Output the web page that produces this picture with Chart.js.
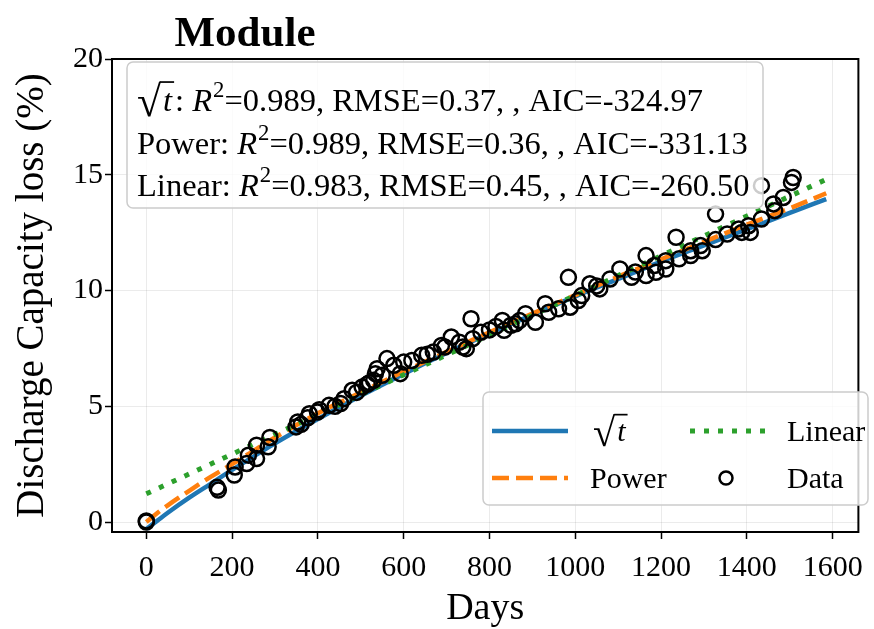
<!DOCTYPE html>
<html>
<head>
<meta charset="utf-8">
<script src="https://cdn.jsdelivr.net/npm/chart.js@4.4.1/dist/chart.umd.min.js"></script>
<style>
  html, body { margin: 0; padding: 0; background: #fff; }
  #wrap { width: 874px; height: 629px; }
</style>
</head>
<body>
<div id="wrap"><canvas id="chart" width="874" height="629"></canvas></div>
<script>
// ─── Data ──────────────────────────────────────────────────
const dataDays = [0, 0, 165, 168, 205, 207, 234, 238, 257, 257, 284, 288, 349, 353, 361, 376, 380, 399, 403,
  426, 440, 453, 461, 480, 490, 503, 515, 520, 530, 534, 538, 550, 561, 577, 592, 600, 619, 642, 655, 669,
  688, 696, 711, 730, 738, 746, 757, 761, 780, 800, 815, 830, 834, 850, 861, 870, 884, 907, 930, 938, 961,
  984, 988, 1007, 1015, 1034, 1050, 1057, 1081, 1104, 1131, 1140, 1165, 1165, 1184, 1188, 1211, 1211, 1235,
  1242, 1269, 1269, 1292, 1296, 1327, 1327, 1354, 1381, 1388, 1404, 1408, 1434, 1434, 1462, 1465, 1485,
  1504, 1508];
const dataLoss = [0.0, 0.05, 1.5, 1.38, 2.03, 2.38, 2.53, 2.89, 2.74, 3.32, 3.25, 3.65, 4.11, 4.32, 4.22, 4.5,
  4.68, 4.75, 4.85, 5.04, 5.0, 5.12, 5.33, 5.69, 5.6, 5.83, 5.95, 6.02, 6.12, 6.41, 6.62, 6.34, 7.06, 6.77,
  6.41, 6.91, 6.98, 7.2, 7.25, 7.34, 7.63, 7.56, 7.99, 7.77, 7.56, 7.49, 8.78, 7.92, 8.2, 8.3, 8.45, 8.71,
  8.28, 8.5, 8.56, 8.7, 9.0, 8.63, 9.43, 9.06, 9.21, 10.57, 9.28, 9.57, 9.78, 10.29, 10.2, 10.07, 10.5,
  10.93, 10.57, 10.8, 11.51, 10.65, 11.08, 10.79, 11.29, 10.93, 12.3, 11.37, 11.51, 11.72, 11.94, 11.72,
  13.3, 12.2, 12.44, 12.66, 12.51, 12.8, 12.51, 13.09, 14.53, 13.74, 13.45, 14.02, 14.67, 14.88];

const fitDays  = [0, 25, 50, 100, 150, 200, 300, 400, 500, 600, 700, 800, 900, 1000, 1100, 1200, 1300, 1400, 1500, 1585];
const sqrtFit  = [-0.3, 0.05, 0.4, 1.05, 1.65, 2.25, 3.4, 4.45, 5.45, 6.4, 7.3, 8.15, 8.95, 9.75, 10.5, 11.25, 11.95, 12.65, 13.35, 13.95];
const powerFit = [0, 0.38, 0.72, 1.35, 1.95, 2.5, 3.65, 4.7, 5.6, 6.5, 7.35, 8.2, 9.0, 9.8, 10.6, 11.35, 12.1, 12.85, 13.55, 14.2];
const linDays  = [0, 1585];
const linFit   = [1.22, 14.8];

const xTicks = [0, 200, 400, 600, 800, 1000, 1200, 1400, 1600];
const yTicks = [0, 5, 10, 15, 20];

const fitNames = ['√t', 'Power', 'Linear'];
const r2Vals   = ['0.989', '0.989', '0.983'];
const rmseVals = ['0.37', '0.36', '0.45'];
const aicVals  = ['-324.97', '-331.13', '-260.50'];

// ─── Helpers ───────────────────────────────────────────────
const SERIF = '"Liberation Serif", "Times New Roman", serif';
const pts = (xs, ys) => xs.map((x, i) => ({ x, y: ys[i] }));

// draws a run of text pieces: plain, italic, superscript, or radical
function drawParts(ctx, x, y, parts, size) {
  ctx.textBaseline = 'alphabetic';
  ctx.textAlign = 'left';
  ctx.fillStyle = '#000';
  parts.forEach(p => {
    if (p.k === 'sqrt') {
      ctx.font = `${size * 1.35}px ${SERIF}`;
      const m = ctx.measureText('√');
      const gy = y + size * 0.16;
      ctx.fillText('√', x, gy);
      const top = gy - m.actualBoundingBoxAscent;
      const rx = x + m.width;
      ctx.font = `italic ${size}px ${SERIF}`;
      const tw = ctx.measureText(p.t).width;
      ctx.fillText(p.t, rx + 2, y);
      ctx.fillRect(rx - 1, top, tw + 5, 1.7);
      x = rx + tw + 5;
    } else if (p.k === 'sup') {
      ctx.font = `${size * 0.7}px ${SERIF}`;
      ctx.fillText(p.t, x + 1, y - size * 0.42);
      x += ctx.measureText(p.t).width + 1;
    } else {
      ctx.font = `${p.k === 'i' ? 'italic ' : ''}${size}px ${SERIF}`;
      ctx.fillText(p.t, x, y);
      x += ctx.measureText(p.t).width;
    }
  });
  return x;
}

function labelParts(name) {
  return name === '√t' ? [{ k: 'sqrt', t: 't' }] : [{ k: 'n', t: name }];
}

function roundBox(ctx, x, y, w, h, r) {
  ctx.beginPath();
  ctx.roundRect(x, y, w, h, r);
  ctx.fillStyle = 'rgba(255,255,255,0.8)';
  ctx.fill();
  ctx.lineWidth = 1.5;
  ctx.strokeStyle = '#cccccc';
  ctx.stroke();
}

// ─── Decorations: frame, title, stats box, legend ──────────
const decor = {
  id: 'decor',
  afterDatasetsDraw(chart) {
    const { ctx, chartArea: a } = chart;
    ctx.save();

    // full frame
    ctx.strokeStyle = '#000';
    ctx.lineWidth = 2;
    ctx.strokeRect(a.left, a.top, a.right - a.left, a.bottom - a.top);

    // title
    ctx.font = `bold 43px ${SERIF}`;
    ctx.fillStyle = '#000';
    ctx.textAlign = 'center';
    ctx.textBaseline = 'alphabetic';
    ctx.fillText('Module', 245, 46);

    // goodness-of-fit box
    roundBox(ctx, 127, 62, 636, 146, 6);
    const base = [111, 154, 196];
    fitNames.forEach((n, i) => {
      const head = n === '√t' ? [{ k: 'sqrt', t: 't' }, { k: 'n', t: ': ' }] : [{ k: 'n', t: n + ': ' }];
      drawParts(ctx, 137, base[i], head.concat([
        { k: 'i', t: 'R' }, { k: 'sup', t: '2' },
        { k: 'n', t: `=${r2Vals[i]}, RMSE=${rmseVals[i]}, , AIC=${aicVals[i]}` }
      ]), 32.5);
    });

    // legend (two columns, column-wise fill)
    roundBox(ctx, 483, 392, 385, 113, 6);
    const ds = chart.data.datasets;
    const slots = [
      { hx: 492, tx: 593, y: 431 },
      { hx: 492, tx: 590, y: 478 },
      { hx: 690, tx: 787, y: 431 },
      { hx: 690, tx: 787, y: 478 }
    ];
    ds.forEach((d, i) => {
      const s = slots[i];
      ctx.save();
      if (d.showLine) {
        ctx.strokeStyle = d.borderColor;
        ctx.lineWidth = d.borderWidth;
        ctx.setLineDash(d.borderDash || []);
        ctx.beginPath();
        ctx.moveTo(s.hx, s.y);
        ctx.lineTo(s.hx + 76, s.y);
        ctx.stroke();
      } else {
        ctx.strokeStyle = '#000';
        ctx.lineWidth = 2.5;
        ctx.beginPath();
        ctx.arc(s.hx + 36, s.y, 6.5, 0, Math.PI * 2);
        ctx.stroke();
      }
      ctx.restore();
      drawParts(ctx, s.tx, s.y + 10, labelParts(d.label), 30);
    });

    ctx.restore();
  }
};

// ─── Chart ─────────────────────────────────────────────────
const tickFont = { family: SERIF, size: 30 };
const gridOpts = { color: 'rgba(0,0,0,0.08)', lineWidth: 1, tickColor: '#000', tickLength: 7, tickWidth: 1.5 };

new Chart(document.getElementById('chart'), {
  type: 'scatter',
  data: {
    datasets: [
      { label: '√t', data: pts(fitDays, sqrtFit), showLine: true, borderColor: '#1f77b4', borderWidth: 4.5,
        pointRadius: 0, cubicInterpolationMode: 'monotone', order: 3 },
      { label: 'Power', data: pts(fitDays, powerFit), showLine: true, borderColor: '#ff7f0e', borderWidth: 4.5,
        borderDash: [17, 7], pointRadius: 0, cubicInterpolationMode: 'monotone', order: 2 },
      { label: 'Linear', data: pts(linDays, linFit), showLine: true, borderColor: '#2ca02c', borderWidth: 5,
        borderDash: [5, 9], pointRadius: 0, order: 1 },
      { label: 'Data', data: pts(dataDays, dataLoss), showLine: false, pointRadius: 7.5, pointBorderWidth: 2.5,
        pointBorderColor: '#000', pointBackgroundColor: 'rgba(0,0,0,0)', order: 0 }
    ]
  },
  options: {
    responsive: false,
    animation: false,
    layout: { padding: { left: 0, right: 8, top: 59, bottom: 0 } },
    plugins: { legend: { display: false }, tooltip: { enabled: false } },
    scales: {
      x: {
        type: 'linear', min: -80, max: 1660,
        afterBuildTicks: s => { s.ticks = xTicks.map(v => ({ value: v })); },
        afterFit: s => { s.height = 97; },
        grid: gridOpts,
        border: { display: false },
        ticks: { font: tickFont, color: '#000', padding: 11, maxRotation: 0, autoSkip: false,
                 callback: v => String(v) },
        title: { display: true, text: 'Days', color: '#000', font: { family: SERIF, size: 38, lineHeight: 1.2 },
                 padding: { top: 0, bottom: -3 } }
      },
      y: {
        type: 'linear', min: -0.43, max: 20,
        afterBuildTicks: s => { s.ticks = yTicks.map(v => ({ value: v })); },
        afterFit: s => { s.width = 112; },
        grid: gridOpts,
        border: { display: false },
        ticks: { font: tickFont, color: '#000', padding: 2, callback: v => String(v) },
        title: { display: true, text: 'Discharge Capacity loss (%)', color: '#000',
                 font: { family: SERIF, size: 39, lineHeight: 1.2 }, padding: { top: 9, bottom: 0 } }
      }
    }
  },
  plugins: [decor]
});
</script>
</body>
</html>
